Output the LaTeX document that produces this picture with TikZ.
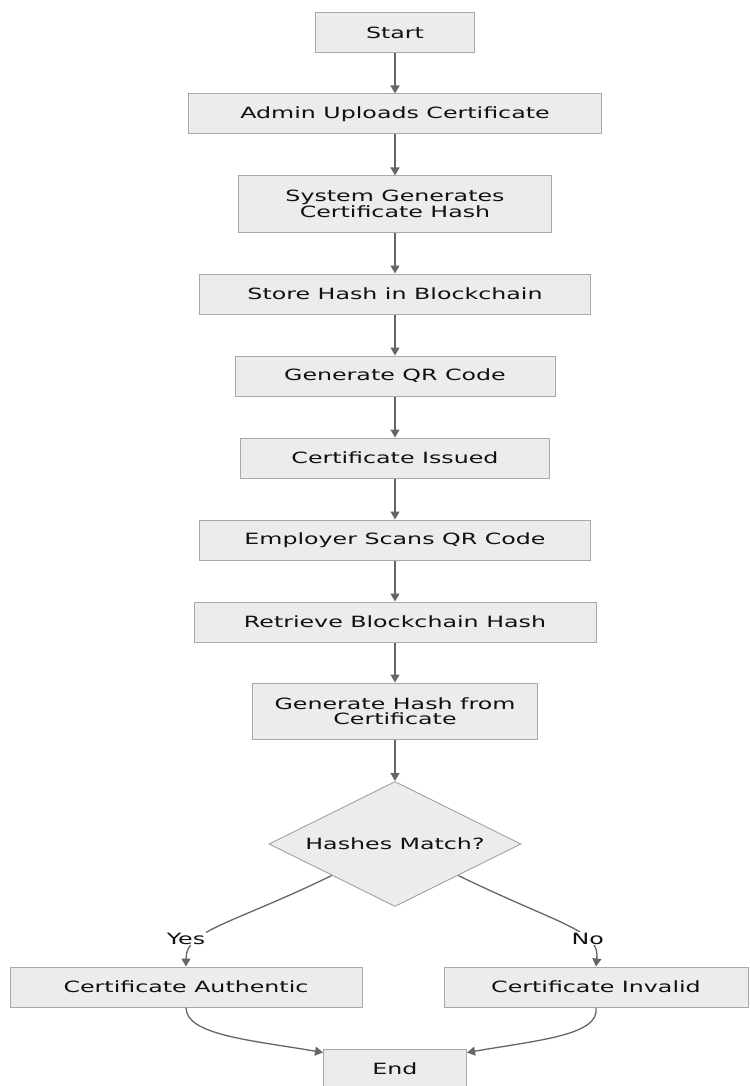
\documentclass[tikz,border=0pt]{standalone}
\usepackage{fontspec}
\setmainfont{DejaVu Sans}[FakeStretch=1.53]
\usetikzlibrary{arrows.meta,shapes.geometric}
\definecolor{boxfill}{HTML}{ECECEC}
\definecolor{boxline}{HTML}{A8A8A8}
\definecolor{edgecol}{HTML}{666666}
\definecolor{txtcol}{HTML}{111111}
\begin{document}
\begin{tikzpicture}[x=1pt,y=-1pt,
  every node/.style={font=\fontsize{15.5}{15.5}\selectfont, text=txtcol},
  stepbox/.style={draw=boxline, fill=boxfill, line width=1pt, rectangle, inner sep=0pt, minimum height=40pt, align=center},
  tallbox/.style={stepbox, minimum height=56pt},
  decbox/.style={draw=boxline, fill=boxfill, line width=1pt, diamond, aspect=2, inner sep=0pt, minimum width=252pt, minimum height=125pt},
  flow/.style={draw=edgecol, line width=1.3pt, -{Triangle[length=8pt,width=9pt]}},
  lbl/.style={fill=white, inner sep=1pt}
]
\useasboundingbox (0,0) rectangle (749,1086);
\fill[white] (0,0) rectangle (749,1086);

\node[stepbox, minimum width=159pt] (start) at (395,33) {Start};
\node[stepbox, minimum width=413pt] (admin) at (395,114) {Admin Uploads Certificate};
\node[tallbox, minimum width=313pt] (sysgen) at (395,204) {System Generates\\Certificate Hash};
\node[stepbox, minimum width=391pt] (store) at (395,294) {Store Hash in Blockchain};
\node[stepbox, minimum width=320pt] (qr) at (395,376) {Generate QR Code};
\node[stepbox, minimum width=309pt] (issued) at (395,458) {Certificate Issued};
\node[stepbox, minimum width=391pt] (employer) at (395,540) {Employer Scans QR Code};
\node[stepbox, minimum width=402pt] (retrieve) at (395,622) {Retrieve Blockchain Hash};
\node[tallbox, minimum width=285pt] (genhash) at (395,711) {Generate Hash from\\Certificate};
\node[decbox] (dec) at (395,844) {Hashes Match?};
\node[stepbox, minimum width=352pt] (auth) at (186,987) {Certificate Authentic};
\node[stepbox, minimum width=304pt] (invalid) at (596,987) {Certificate Invalid};
\node[stepbox, minimum width=143pt] (endn) at (395,1069) {End};

\draw[flow] (start) -- (admin);
\draw[flow] (admin) -- (sysgen);
\draw[flow] (sysgen) -- (store);
\draw[flow] (store) -- (qr);
\draw[flow] (qr) -- (issued);
\draw[flow] (issued) -- (employer);
\draw[flow] (employer) -- (retrieve);
\draw[flow] (retrieve) -- (genhash);
\draw[flow] (genhash) -- (dec);

\draw[flow] (dec.south west) .. controls (230,925) and (186,930) .. (auth.north)
  node[lbl, pos=0.68, xshift=-14pt] {Yes};
\draw[flow] (dec.south east) .. controls (560,925) and (600,930) .. (invalid.north)
  node[lbl, pos=0.68, xshift=2pt] {No};

\draw[flow] (auth.south) .. controls (186,1035) and (250,1040) .. ([yshift=-4pt]endn.north west);
\draw[flow] (invalid.south) .. controls (600,1035) and (540,1040) .. ([yshift=-4pt]endn.north east);
\end{tikzpicture}
\end{document}
